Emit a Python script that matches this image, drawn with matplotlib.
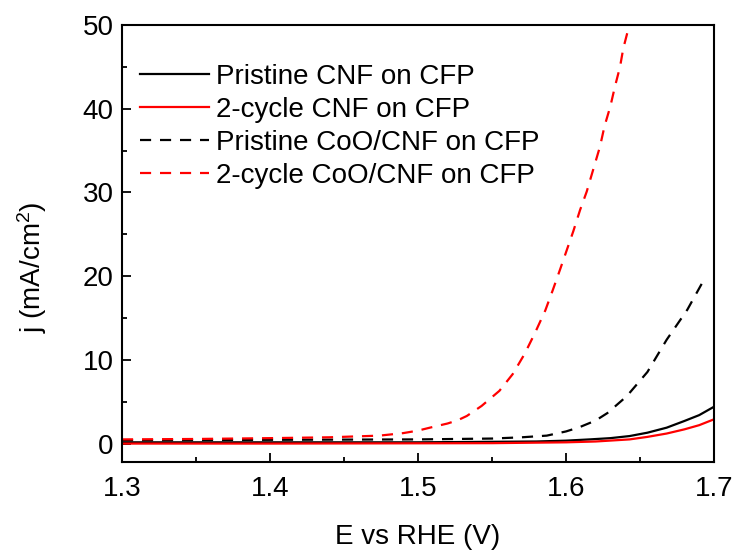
import matplotlib
matplotlib.use("Agg")
import matplotlib.pyplot as plt

plt.rcParams['font.family'] = ['Liberation Sans', 'DejaVu Sans']
plt.rcParams['mathtext.default'] = 'regular'

# Pristine CNF on CFP (black solid)
v_pcnf = [1.30, 1.40, 1.50, 1.58, 1.60, 1.616, 1.63, 1.643, 1.655, 1.668, 1.68, 1.69, 1.70]
j_pcnf = [0.15, 0.15, 0.15, 0.25, 0.35, 0.50, 0.65, 0.90, 1.30, 1.90, 2.70, 3.40, 4.40]
# 2-cycle CNF on CFP (red solid)
v_2cnf = [1.30, 1.40, 1.55, 1.60, 1.62, 1.643, 1.655, 1.668, 1.68, 1.69, 1.70]
j_2cnf = [0.0, 0.0, 0.05, 0.15, 0.25, 0.50, 0.80, 1.20, 1.70, 2.20, 2.90]
# Pristine CoO/CNF on CFP (black dashed)
v_pcoo = [1.30, 1.40, 1.50, 1.55, 1.57, 1.587, 1.60, 1.609, 1.62, 1.628, 1.641, 1.655, 1.668, 1.682, 1.693]
j_pcoo = [0.40, 0.45, 0.50, 0.60, 0.75, 0.95, 1.45, 1.95, 2.75, 3.65, 5.65, 8.55, 12.4, 16.0, 19.5]
# 2-cycle CoO/CNF on CFP (red dashed)
v_2coo = [1.30, 1.35, 1.40, 1.44, 1.474, 1.49, 1.50, 1.508, 1.52, 1.527, 1.533, 1.543, 1.555, 1.564,
          1.572, 1.579, 1.586, 1.591, 1.596, 1.6005, 1.605, 1.6095, 1.614, 1.619, 1.623,
          1.626, 1.630, 1.633, 1.6365, 1.6387, 1.6428, 1.6445]
j_2coo = [0.50, 0.55, 0.65, 0.75, 0.95, 1.25, 1.55, 1.90, 2.40, 2.80, 3.30, 4.50, 6.30, 8.30,
          10.7, 13.2, 15.9, 18.3, 20.8, 23.1, 25.4, 27.9, 30.1, 33.1, 35.5,
          37.9, 40.3, 42.6, 45.0, 47.2, 50.0, 51.2]

labels = ['Pristine CNF on CFP', '2-cycle CNF on CFP',
          'Pristine CoO/CNF on CFP', '2-cycle CoO/CNF on CFP']
xticks = [1.3, 1.4, 1.5, 1.6, 1.7]
yticks = [0, 10, 20, 30, 40, 50]

fig = plt.figure(figsize=(7.4, 5.52), dpi=100)
ax = fig.add_axes([122/740, 1-462/552, (714-122)/740, (462-25)/552])

lw = 1.6
dash = (0, (5, 4))
ax.plot(v_pcnf, j_pcnf, color='black', lw=lw, label=labels[0])
ax.plot(v_2cnf, j_2cnf, color='red', lw=lw, label=labels[1])
ax.plot(v_pcoo, j_pcoo, color='black', lw=lw, linestyle=dash, label=labels[2])
ax.plot(v_2coo, j_2coo, color='red', lw=lw, linestyle=dash, label=labels[3])

ax.set_xlim(1.3, 1.7)
ax.set_ylim(-2.2, 50)
ax.set_xticks(xticks)
ax.set_xticklabels([f'{t:.1f}' for t in xticks])
ax.set_yticks(yticks)
ax.set_xticks([1.35, 1.45, 1.55, 1.65], minor=True)
ax.set_yticks([5, 15, 25, 35, 45], minor=True)
ax.tick_params(which='major', direction='in', length=6.5, width=1.3, labelsize=20)
ax.tick_params(axis='x', which='major', pad=10)
ax.tick_params(axis='y', which='major', pad=6)
ax.tick_params(which='minor', direction='in', length=3.6, width=1.3)
for s in ax.spines.values():
    s.set_linewidth(1.5)

ax.set_xlabel('E vs RHE (V)', fontsize=20, labelpad=16)
ax.set_ylabel('j (mA/cm$^2$)', fontsize=20)
ax.yaxis.set_label_coords(-0.123, 0.445)

ax.legend(loc='upper left', bbox_to_anchor=(-0.003, 0.955), frameon=False, fontsize=20,
          handlelength=2.5, handletextpad=0.25, labelspacing=0.25, borderaxespad=0.3)

fig.savefig('out.png', dpi=100)
